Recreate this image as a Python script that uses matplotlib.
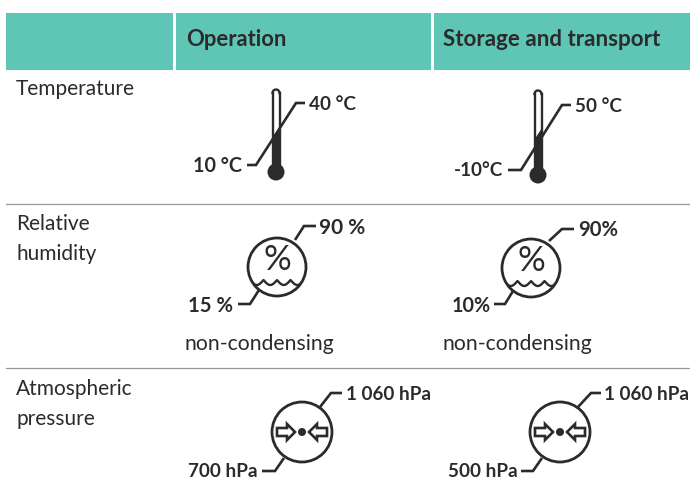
import matplotlib
matplotlib.use("Agg")
import matplotlib.pyplot as plt
from matplotlib.patches import Circle, Rectangle, Polygon
import numpy as np

plt.rcParams['font.family'] = ['Lato', 'DejaVu Sans']

W, H = 690, 495
TEAL = "#5fc5b4"
INK = "#2b2a2c"

headers = ["Operation", "Storage and transport"]
rows = ["Temperature", "Relative\nhumidity", "Atmospheric\npressure"]
notes = ["non-condensing", "non-condensing"]
temp_labels = [("40 °C", "10 °C"), ("50 °C", "-10°C")]
hum_labels = [("90 %", "15 %"), ("90%", "10%")]
pres_labels = [("1 060 hPa", "700 hPa"), ("1 060 hPa", "500 hPa")]

fig = plt.figure(figsize=(W/100, H/100), dpi=100)
ax = fig.add_axes([0, 0, 1, 1])
ax.set_xlim(0, W)
ax.set_ylim(H, 0)
ax.axis("off")


def leader(pts):
    x, y = zip(*pts)
    ax.plot(x, y, c=INK, lw=1.9, solid_joinstyle="miter", solid_capstyle="butt")


def limit(x, y, s, ha="left", size=13.6):
    ax.text(x, y+1.5, s, ha=ha, va="center", fontsize=size, fontweight="bold", color=INK)


def thermometer(cx, top, bulb, fill_y):
    ax.plot([cx-3.5, cx-3.5], [top+3, bulb], c=INK, lw=1.7)
    ax.plot([cx+3.5, cx+3.5], [top+3, bulb], c=INK, lw=1.7)
    t = np.linspace(np.pi, 2*np.pi, 20)
    ax.plot(cx+3.5*np.cos(t), top+3+3.5*np.sin(t), c=INK, lw=1.7)
    # mercury top is cut off by the diagonal leader
    ax.add_patch(Polygon([(cx-4, fill_y+6), (cx+4, fill_y-6), (cx+4, bulb), (cx-4, bulb)],
                         closed=True, color=INK, lw=0))
    ax.add_patch(Circle((cx, bulb), 8.5, color=INK, lw=0))


def humidity(cx, cy, r=29):
    c = Circle((cx, cy), r, fc="white", ec=INK, lw=2, zorder=3)
    ax.add_patch(c)
    ax.text(cx, cy-7, "%", ha="center", va="center", fontsize=25, color=INK, zorder=4)
    x = np.linspace(cx-r, cx+r, 300)
    y = cy+13 + 5*np.abs(np.sin((x-cx)*np.pi/13.5))
    wave, = ax.plot(x, y, c=INK, lw=1.7, zorder=4)
    wave.set_clip_path(c)


def pressure(cx, cy, r=30):
    ax.add_patch(Circle((cx, cy), r, fc="white", ec=INK, lw=2, zorder=3))
    ax.add_patch(Circle((cx, cy), 4, color=INK, lw=0, zorder=4))
    for s in (-1, 1):
        # outline arrow pointing at the centre dot
        px = [25, 15, 15, 7, 15, 15, 25]
        py = [-4, -4, -8, 0, 8, 4, 4]
        pts = [(cx + s*a, cy + b) for a, b in zip(px, py)]
        ax.add_patch(Polygon(pts, closed=True, fc="white", ec=INK, lw=1.9, zorder=4))


# header band
ax.add_patch(Rectangle((6, 13), 167, 57, color=TEAL, lw=0))
ax.add_patch(Rectangle((176, 13), 255, 57, color=TEAL, lw=0))
ax.add_patch(Rectangle((434, 13), 256, 57, color=TEAL, lw=0))
ax.text(186, 40, headers[0], va="center", fontsize=15.8, fontweight="bold", color=INK)
ax.text(443, 40, headers[1], va="center", fontsize=16.1, fontweight="bold", color=INK)

# row separators
for y in (204, 368):
    ax.plot([6, 690], [y, y], c="#9a9a9a", lw=0.9)

for s, y in zip(rows, (79, 214, 379)):
    ax.text(16, y, s, va="top", fontsize=15, color=INK, linespacing=1.65)

# temperature
thermometer(276, 90, 172, 133)
leader([(247, 165), (256, 165), (296, 103), (305, 103)])
limit(309, 103, temp_labels[0][0])
limit(242, 165, temp_labels[0][1], ha="right", size=14.2)

thermometer(538, 91, 175, 134)
leader([(508, 170), (521, 170), (562, 105), (571, 105)])
limit(575, 105, temp_labels[1][0])
limit(503, 169, temp_labels[1][1], ha="right")

# humidity
humidity(277, 267)
leader([(295, 240), (304, 226), (316, 226)])
leader([(259, 290), (250, 304), (238, 304)])
limit(319, 226, hum_labels[0][0], size=15)
limit(233, 304, hum_labels[0][1], ha="right", size=14.6)

humidity(531, 268)
leader([(549, 241), (562, 229), (574, 229)])
leader([(513, 291), (505, 304), (494, 304)])
limit(578, 229, hum_labels[1][0], size=14.6)
limit(491, 304, hum_labels[1][1], ha="right", size=14.2)

ax.text(185, 344, notes[0], va="center", fontsize=15.2, color=INK)
ax.text(443, 344, notes[1], va="center", fontsize=15.2, color=INK)

# pressure
pressure(302, 432)
leader([(320, 407), (331, 393), (342, 393)])
leader([(284, 458), (275, 471), (262, 471)])
limit(346, 393, pres_labels[0][0])
limit(258, 470, pres_labels[0][1], ha="right")

pressure(560, 432)
leader([(578, 407), (591, 393), (601, 393)])
leader([(542, 458), (533, 471), (521, 471)])
limit(604, 393, pres_labels[1][0])
limit(518, 470, pres_labels[1][1], ha="right")

fig.savefig("out.png", dpi=100)
